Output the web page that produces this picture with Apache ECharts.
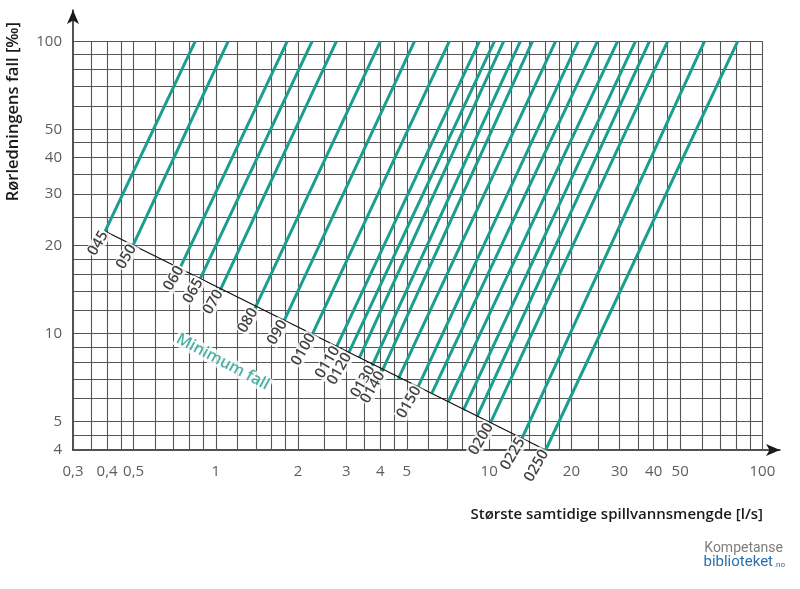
<!DOCTYPE html>
<html><head><meta charset="utf-8">
<script src="https://cdn.jsdelivr.net/npm/echarts@6/dist/echarts.min.js"></script>
<style>html,body{margin:0;padding:0;background:#fff}#c{width:800px;height:589px}</style>
</head><body><div id="c"></div>
<script>
// ---- data ----
const xGridValues = [0.3,0.35,0.4,0.45,0.5,0.6,0.7,0.8,0.9,1,1.2,1.4,1.6,1.8,2,2.5,3,3.5,4,4.5,5,6,7,8,9,10,12,14,16,18,20,25,30,35,40,45,50,60,70,80,90,100];
const yGridValues = [4,4.5,5,6,7,8,9,10,12,14,16,18,20,25,30,35,40,45,50,60,70,80,90,100];
const xTickValues = [0.3,0.4,0.5,1,2,3,4,5,10,20,30,40,50,100];
const xTickLabels = ['0,3','0,4','0,5','1','2','3','4','5','10','20','30','40','50','100'];
const yTickValues = [4,5,10,20,30,40,50,100];
const yTickLabels = ['4','5','10','20','30','40','50','100'];
// pipe lines: start on minimum-fall line, end at fall = 100
const pipeNames = ['045','050','060','065','070','080','090','0100','0110','0120','','0130','0140','','0150','','','','','0200','0225','0250'];
const pipeStartQ = [0.393,0.499,0.744,0.876,1.037,1.39,1.78,2.26,2.77,3.06,3.35,3.73,4.05,4.65,5.5,6.18,7.09,8.05,9.03,10.1,13.2,16.1];
const pipeStartFall = [22.4,20.15,17.0,15.4,14.1,12.2,11.1,10.0,9.04,8.58,8.27,7.76,7.42,7.01,6.59,6.27,5.86,5.48,5.20,4.94,4.39,4.0];
const pipeEndQ = [0.84,1.109,1.824,2.25,2.76,4.0,5.33,7.15,9.21,10.45,11.3,13.0,14.4,17.5,21.2,24.9,29.5,34.3,38.6,45.0,61.4,81.2];
const pipeEndFall = 100;
const minFallQ = [0.393, 16.1];
const minFallValues = [22.4, 4.0];
const minFallLabelPos = [1.06, 8.0];

// ---- chart ----
const teal = '#1b9e8e';
const xMin = 0.3, xMax = 116, yMin = 4, yMax = 128;
const chart = echarts.init(document.getElementById('c'), null, {renderer:'canvas'});

const gridLines = [];
xGridValues.forEach(x => gridLines.push({coords:[[x, yMin],[x, 100]]}));
yGridValues.forEach(y => gridLines.push({coords:[[xMin, y],[100, y]]}));

const pipeLines = pipeStartQ.map((q,i) => ({coords:[[q, pipeStartFall[i]],[pipeEndQ[i], pipeEndFall]]}));
const pipeLabels = [];
pipeNames.forEach((n,i) => { if (n) pipeLabels.push([pipeStartQ[i], pipeStartFall[i], n]); });

const font = 'Open Sans';

chart.setOption({
  animation: false,
  grid: {left: 73, right: 20, top: 10, bottom: 139},
  xAxis: {type:'log', logBase:10, min:xMin, max:xMax,
    axisLine:{onZero:false, lineStyle:{color:'#1a1a1a', width:1.5}, symbol:['none','arrow'], symbolSize:[9,14]},
    axisTick:{show:false}, axisLabel:{show:false}, splitLine:{show:false}},
  yAxis: {type:'log', logBase:10, min:yMin, max:yMax,
    axisLine:{onZero:false, lineStyle:{color:'#1a1a1a', width:1.5}, symbol:['none','arrow'], symbolSize:[9,14]},
    axisTick:{show:false}, axisLabel:{show:false}, splitLine:{show:false}},
  title: {text:'Største samtidige spillvannsmengde [l/s]', right: 32, top: 502,
    textStyle:{fontFamily:font, fontSize:15, fontWeight:600, color:'#1a1a1a'}},
  graphic: [
    {type:'text', left: 5, top: 22, rotation: Math.PI/2,
      style:{text:'Rørledningens fall [‰]', fontFamily:font, fontSize:16.5, fontWeight:600, fill:'#1a1a1a'}},
    {type:'text', right: 17, top: 541, style:{text:'Kompetanse', fontFamily:'Roboto', fontSize:14, fill:'#7d7d7d'}},
    {type:'text', right: 27, top: 555, style:{text:'biblioteket', fontFamily:'Roboto', fontSize:15, fill:'#2a6fad'}},
    {type:'text', right: 15, top: 561, style:{text:'.no', fontFamily:'Roboto', fontSize:8, fill:'#2a6fad'}}
  ],
  series: [
    {type:'lines', coordinateSystem:'cartesian2d', polyline:false, silent:true, z:1,
      lineStyle:{color:'#555', width:1.1, opacity:1}, data: gridLines},
    {type:'lines', coordinateSystem:'cartesian2d', polyline:false, silent:true, z:3,
      lineStyle:{color:teal, width:3, opacity:1}, data: pipeLines},
    {type:'lines', coordinateSystem:'cartesian2d', polyline:false, silent:true, z:4,
      lineStyle:{color:'#111', width:1.3, opacity:1},
      data: [{coords:[[minFallQ[0], minFallValues[0]],[minFallQ[1], minFallValues[1]]]}]},
    {type:'scatter', symbolSize:0, silent:true, z:5, data: pipeLabels,
      label:{show:true, position:'inside', formatter: p => p.data[2], rotate:60, align:'right', verticalAlign:'middle',
        fontFamily:font, fontSize:15, fontWeight:600, color:'#111', backgroundColor:'#fff', padding:[0,1,0,1]}},
    {type:'scatter', symbolSize:0, silent:true, z:5, data: [[minFallLabelPos[0], minFallLabelPos[1], 'Minimum fall']],
      label:{show:true, position:'inside', formatter: p => p.data[2], rotate:-28, align:'center', verticalAlign:'middle',
        fontFamily:font, fontSize:16, fontWeight:600, color:teal, backgroundColor:'#fff', padding:[0,2]}},
    {type:'scatter', symbolSize:0, silent:true, z:5,
      data: xTickValues.map((v,i) => [v, yMin, xTickLabels[i]]),
      label:{show:true, position:'inside', offset:[0,22], formatter: p => p.data[2], align:'center', verticalAlign:'middle',
        fontFamily:font, fontSize:15, color:'#333'}},
    {type:'scatter', symbolSize:0, silent:true, z:5,
      data: yTickValues.map((v,i) => [xMin, v, yTickLabels[i]]),
      label:{show:true, position:'inside', offset:[-11,0], formatter: p => p.data[2], align:'right', verticalAlign:'middle',
        fontFamily:font, fontSize:15, color:'#333'}}
  ]
});
</script></body></html>
